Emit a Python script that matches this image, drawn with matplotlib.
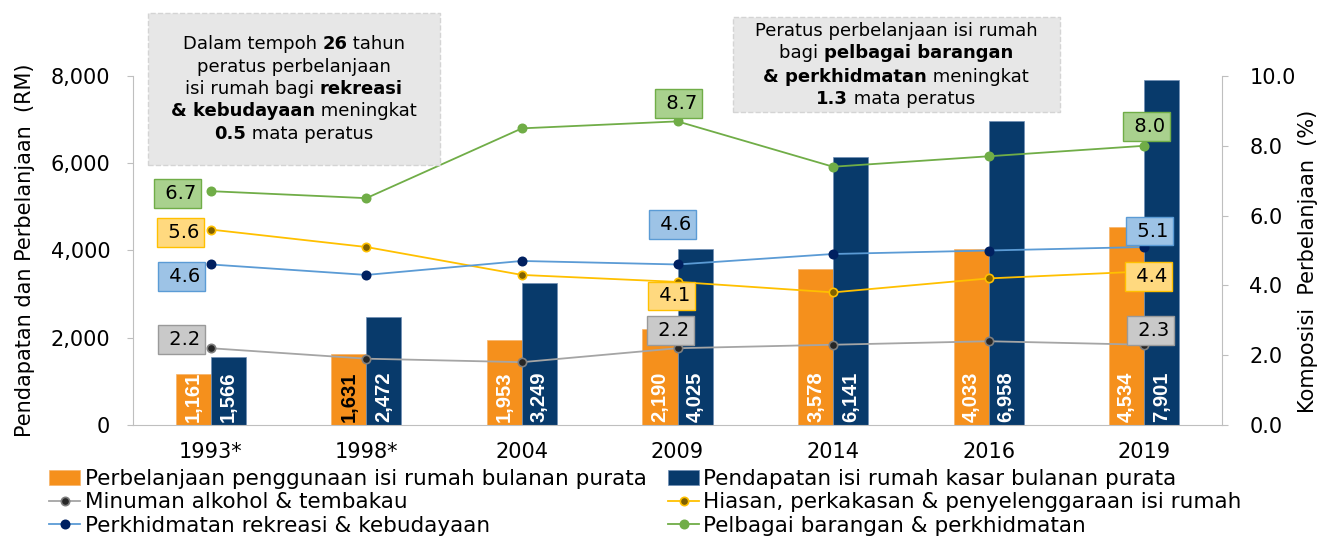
import numpy as np
import matplotlib.pyplot as plt
from matplotlib.patches import Rectangle

plt.rcParams['font.family'] = ['DejaVu Sans']

years = ['1993*', '1998*', '2004', '2009', '2014', '2016', '2019']
belanja = [1161, 1631, 1953, 2190, 3578, 4033, 4534]
pendapatan = [1566, 2472, 3249, 4025, 6141, 6958, 7901]
alkohol = [2.2, 1.9, 1.8, 2.2, 2.3, 2.4, 2.3]
hiasan = [5.6, 5.1, 4.3, 4.1, 3.8, 4.2, 4.4]
rekreasi = [4.6, 4.3, 4.7, 4.6, 4.9, 5.0, 5.1]
pelbagai = [6.7, 6.5, 8.5, 8.7, 7.4, 7.7, 8.0]

names = ['Perbelanjaan penggunaan isi rumah bulanan purata',
         'Pendapatan isi rumah kasar bulanan purata',
         'Minuman alkohol & tembakau',
         'Hiasan, perkakasan & penyelenggaraan isi rumah',
         'Perkhidmatan rekreasi & kebudayaan',
         'Pelbagai barangan & perkhidmatan']

# (text, bold) pieces per line
note1 = [[('Dalam tempoh ', 0), ('26', 1), (' tahun', 0)],
         [('peratus perbelanjaan', 0)],
         [('isi rumah bagi ', 0), ('rekreasi', 1)],
         [('& kebudayaan', 1), (' meningkat', 0)],
         [('0.5', 1), (' mata peratus', 0)]]
note2 = [[('Peratus perbelanjaan isi rumah', 0)],
         [('bagi ', 0), ('pelbagai barangan', 1)],
         [('& perkhidmatan', 1), (' meningkat', 0)],
         [('1.3', 1), (' mata peratus', 0)]]

W, H = 1344, 536
fig = plt.figure(figsize=(W / 100, H / 100), dpi=100)
ax = fig.add_axes([133 / W, 1 - 425 / H, (1222 - 133) / W, (425 - 76) / H])
ax2 = ax.twinx()

x = np.arange(len(years))
w = 0.225
c_or, c_nv = '#f5901c', '#083a6b'
b1 = ax.bar(x - w / 2, belanja, w, color=c_or, edgecolor='#f7b46a', lw=0.5)
b2 = ax.bar(x + w / 2, pendapatan, w, color=c_nv, edgecolor='#6f8fb5', lw=0.5)
for i in range(len(years)):
    ax.text(x[i] - w / 2, 60, f'{belanja[i]:,}', rotation=90, ha='center', va='bottom',
            color='black' if i == 1 else 'white', fontsize=14.5, fontweight='bold',
            family='Liberation Sans')
    ax.text(x[i] + w / 2, 60, f'{pendapatan[i]:,}', rotation=90, ha='center', va='bottom',
            color='white', fontsize=14.5, fontweight='bold', family='Liberation Sans')

ax.set_xlim(-0.5, len(years) - 0.5)
ax.set_ylim(0, 8000)
ax.set_yticks([0, 2000, 4000, 6000, 8000])
ax.set_yticklabels(['0', '2,000', '4,000', '6,000', '8,000'])
ax.set_xticks(x)
ax.set_xticklabels(years)
ax2.set_ylim(0, 10)
ax2.set_yticks([0, 2, 4, 6, 8, 10])
ax2.set_yticklabels(['0.0', '2.0', '4.0', '6.0', '8.0', '10.0'])

gc = '#bfbfbf'
for s in ['top', 'right']:
    ax.spines[s].set_visible(False)
for s in ['top', 'left', 'bottom']:
    ax2.spines[s].set_visible(False)
ax.spines['left'].set_color(gc)
ax.spines['bottom'].set_color(gc)
ax2.spines['right'].set_color(gc)
ax.tick_params(axis='y', length=4.3, color=gc, pad=12, labelsize=15)
ax.tick_params(axis='x', length=0, pad=12.5, labelsize=15)
ax2.tick_params(axis='y', length=4.3, color=gc, pad=15.5, labelsize=15)

ax.set_ylabel('Pendapatan dan Perbelanjaan  (RM)', fontsize=15)
ax.yaxis.set_label_coords(-0.09, 0.5)
ax2.set_ylabel('Komposisi  Perbelanjaan  (%)', fontsize=15)
ax2.yaxis.set_label_coords(1.07, 0.47)

series = [
    (alkohol, '#a5a5a5', '#262626', '#7f7f7f', '#c9c9c9', '#9a9a9a',
     [(-29, 9), (-7, 18), (6, 14)]),
    (hiasan, '#ffc000', '#7f6000', '#ffc000', '#ffd97f', '#ffc000',
     [(-30, -3), (-6, -14), (4, -5)]),
    (rekreasi, '#5b9bd5', '#002060', '#002060', '#9dc3e6', '#5b9bd5',
     [(-29, -12), (-5, 40), (5, 16)]),
    (pelbagai, '#70ad47', '#70ad47', '#70ad47', '#a9d18e', '#70ad47',
     [(-33, -2), (1, 18), (2, 19)]),
]
lines = []
for vals, lc, mfc, mec, bfc, bec, offs in series:
    ln, = ax2.plot(x, vals, color=lc, lw=1.3, marker='o', ms=6,
                   mfc=mfc, mec=mec, mew=1.2, zorder=3)
    lines.append(ln)
    for k, i in enumerate([0, 3, 6]):
        ax2.annotate(f' {vals[i]:.1f}', (x[i], vals[i]), xytext=offs[k],
                     textcoords='offset pixels', ha='center', va='center',
                     fontsize=14, zorder=5,
                     bbox=dict(boxstyle='square,pad=0.25', fc=bfc, ec=bec, lw=1))

fig.legend([b1, lines[0], lines[2], b2, lines[1], lines[3]],
           [names[0], names[2], names[4], names[1], names[3], names[5]],
           ncol=2, loc='upper left', bbox_to_anchor=(49 / W, 1 - 469 / H),
           frameon=False, fontsize=15.5, borderpad=0, borderaxespad=0,
           handlelength=1.45, handletextpad=0.2, columnspacing=1.0,
           labelspacing=0.16, handleheight=0.7)

# note boxes
fig.patches.append(Rectangle((148 / W, 1 - 165 / H), 292 / W, 152 / H,
                             transform=fig.transFigure, fc='#e7e7e7', ec='#d4d4d4',
                             ls='--', lw=1, zorder=0))
fig.patches.append(Rectangle((733 / W, 1 - 112 / H), 327 / W, 95 / H,
                             transform=fig.transFigure, fc='#e7e7e7', ec='#d4d4d4',
                             ls='--', lw=1, zorder=0))


def rich_text(rows, cx, cy, step, size=13):
    rend = fig.canvas.get_renderer()
    y0 = cy + step * (len(rows) - 1) / 2
    for r, row in enumerate(rows):
        parts = [fig.text(0, 0, t, fontsize=size, fontweight='bold' if b else 'normal',
                          va='center', ha='left') for t, b in row]
        widths = [p.get_window_extent(rend).width for p in parts]
        xx = cx - sum(widths) / 2
        for p, wd in zip(parts, widths):
            p.set_position((xx / W, 1 - (y0 - r * step) / H))
            xx += wd


rich_text(note1, 294, 89, -22.5)
rich_text(note2, 896, 65, -23)

fig.savefig('out.png', dpi=100)
